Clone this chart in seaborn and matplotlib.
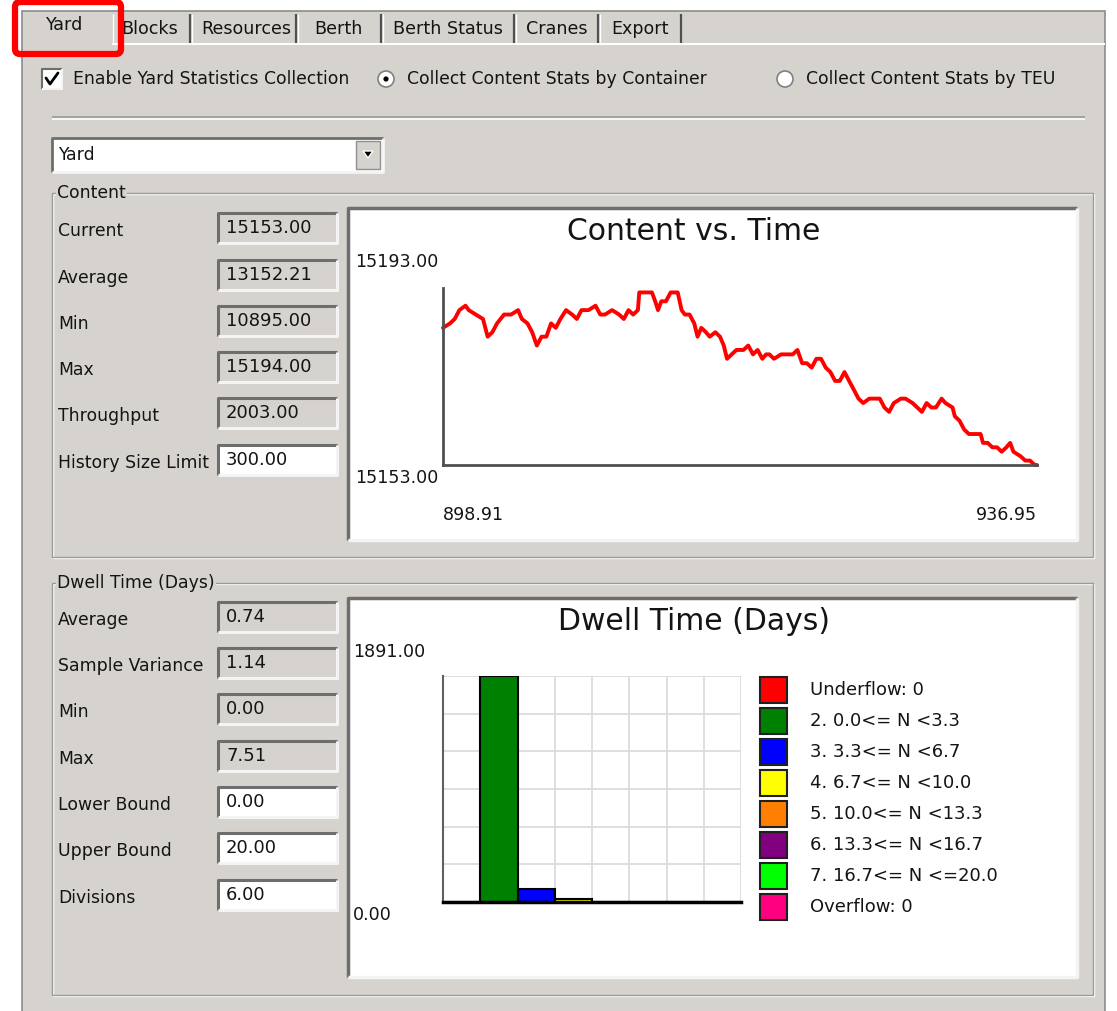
import matplotlib
matplotlib.use("Agg")
import numpy as np
import pandas as pd
import matplotlib.pyplot as plt
from matplotlib.patches import Rectangle, FancyBboxPatch, Circle, Polygon
import seaborn as sns

# ---- data ----
tab_names = ["Yard", "Blocks", "Resources", "Berth", "Berth Status", "Cranes", "Export"]

content_labels = ["Current", "Average", "Min", "Max", "Throughput", "History Size Limit"]
content_values = ["15153.00", "13152.21", "10895.00", "15194.00", "2003.00", "300.00"]

dwell_labels = ["Average", "Sample Variance", "Min", "Max", "Lower Bound", "Upper Bound", "Divisions"]
dwell_values = ["0.74", "1.14", "0.00", "7.51", "0.00", "20.00", "6.00"]

# content vs. time trace
time = [898.91, 899.36, 899.66, 899.96, 900.35, 900.56, 901.01, 901.47, 901.77, 902.07,
        902.37, 902.82, 903.27, 903.72, 903.96, 904.32, 904.62, 904.92, 905.22, 905.53,
        905.83, 906.13, 906.43, 906.79, 907.18, 907.48, 907.78, 908.23, 908.68, 908.98,
        909.28, 909.74, 910.19, 910.49, 910.79, 911.09, 911.39, 911.48, 911.84, 912.29,
        912.50, 912.68, 912.89, 913.19, 913.49, 913.94, 914.19, 914.40, 914.70, 915.00,
        915.21, 915.45, 915.75, 915.99, 916.35, 916.65, 916.89, 917.10, 917.40, 917.70,
        918.15, 918.46, 918.76, 919.06, 919.36, 919.60, 919.81, 920.11, 920.56, 921.01,
        921.31, 921.61, 921.91, 922.21, 922.52, 922.82, 923.12, 923.42, 923.72, 924.02,
        924.32, 924.62, 924.92, 925.22, 925.52, 925.82, 926.21, 926.51, 926.88, 927.18,
        927.48, 927.78, 928.23, 928.53, 928.98, 929.28, 929.58, 929.88, 930.18, 930.48,
        930.84, 931.09, 931.54, 931.69, 931.99, 932.29, 932.59, 933.04, 933.34, 933.49,
        933.79, 934.09, 934.39, 934.69, 934.99, 935.23, 935.44, 935.89, 936.20, 936.50,
        936.80, 936.95]
content = [15184, 15185, 15186, 15188, 15189, 15188, 15187, 15186, 15182, 15183,
           15185, 15187, 15187, 15188, 15186, 15185, 15183, 15180, 15182, 15182,
           15185, 15184, 15186, 15188, 15187, 15186, 15188, 15188, 15189, 15187,
           15187, 15188, 15187, 15186, 15188, 15187, 15188, 15192, 15192, 15192,
           15190, 15188, 15190, 15190, 15192, 15192, 15188, 15187, 15187, 15185,
           15182, 15184, 15183, 15182, 15183, 15182, 15180, 15177, 15178, 15179,
           15179, 15180, 15178, 15179, 15177, 15178, 15178, 15177, 15178, 15178,
           15178, 15179, 15176, 15176, 15175, 15177, 15177, 15175, 15174, 15172,
           15172, 15174, 15172, 15170, 15168, 15167, 15168, 15168, 15168, 15166,
           15165, 15167, 15168, 15168, 15167, 15166, 15165, 15167, 15166, 15166,
           15168, 15167, 15166, 15164, 15163, 15161, 15160, 15160, 15160, 15158,
           15158, 15157, 15157, 15156, 15157, 15158, 15156, 15155, 15154, 15154,
           15153, 15153]
time_labels = ["898.91", "936.95"]
content_labels_axis = ["15193.00", "15153.00"]

# dwell time histogram
bins = ["Underflow: 0", "2. 0.0<= N <3.3", "3. 3.3<= N <6.7", "4. 6.7<= N <10.0",
        "5. 10.0<= N <13.3", "6. 13.3<= N <16.7", "7. 16.7<= N <=20.0", "Overflow: 0"]
counts = [0, 1891, 108, 24, 0, 0, 0, 0]
bin_colors = ["#ff0000", "#008000", "#0000ff", "#ffff00",
              "#ff8000", "#800080", "#00ff00", "#ff0080"]
dwell_axis_labels = ["1891.00", "0.00"]

# ---- page setup ----
sns.set_style("white")
plt.rcParams["font.family"] = ["DejaVu Sans"]
plt.rcParams["text.color"] = "#141414"

W, H = 1117, 1011
GREY = "#d6d3ce"
FS = 12.4      # dialog labels
VS = 13        # text box values
AS = 12.6      # chart axis labels

fig = plt.figure(figsize=(W / 100, H / 100), dpi=100)
bg = fig.add_axes([0, 0, 1, 1])
bg.set_xlim(0, W)
bg.set_ylim(H, 0)
bg.axis("off")


def px_axes(x0, y0, x1, y1):
    return fig.add_axes([x0 / W, 1 - y1 / H, (x1 - x0) / W, (y1 - y0) / H])


def line(xs, ys, c, lw=1.0, z=2):
    bg.plot(xs, ys, color=c, lw=lw, solid_capstyle="butt", zorder=z)


def sunken(x0, y0, x1, y1, face, lw=2.0):
    bg.add_patch(Rectangle((x0, y0), x1 - x0, y1 - y0, fc=face, ec="none", zorder=2))
    line([x0, x0, x1], [y1, y0, y0], "#6e6e6e", lw, 3)
    line([x0, x1, x1], [y1, y1, y0], "#f4f4f4", lw, 3)


def group_box(x0, y0, x1, y1, title):
    bg.add_patch(Rectangle((x0 + 1, y0 + 1), x1 - x0, y1 - y0, fc="none", ec="white", lw=1, zorder=2))
    bg.add_patch(Rectangle((x0, y0), x1 - x0, y1 - y0, fc="none", ec="#9a9a9a", lw=1, zorder=2))
    bg.text(x0 + 5, y0, title, fontsize=FS, va="center", ha="left", zorder=4,
            bbox=dict(fc=GREY, ec="none", pad=1))


# main window
bg.add_patch(Rectangle((22, 11), 1083, 1010, fc=GREY, ec="#8c8c8c", lw=1.2, zorder=1))
line([112, 1105], [44, 44], "white", 1.5)

# tabs
tab_sep = [190, 296, 381, 514, 598, 681]
tab_x = [64, 150, 246, 338, 448, 557, 640]
for x in tab_sep:
    line([x, x], [14, 43], "#505050", 1.6)
for x in [113] + [s + 2 for s in tab_sep[:-1]]:
    line([x, x], [14, 43], "white", 1.0)
for i, name in enumerate(tab_names):
    bg.text(tab_x[i], 25 if i == 0 else 29, name, fontsize=12.6, ha="center", va="center", zorder=4)
bg.add_patch(FancyBboxPatch((15, 2), 106, 52, boxstyle="round,pad=0,rounding_size=5",
                            fc="none", ec="#ff0000", lw=4.5, zorder=6))

# checkbox + radio buttons
sunken(42, 69, 62, 89, "white", 1.5)
bg.plot([46, 50, 58], [78, 84, 73], color="black", lw=2.0, zorder=4)
bg.text(73, 79, "Enable Yard Statistics Collection", fontsize=FS, va="center", zorder=4)
for cx, on, label in [(386, True, "Collect Content Stats by Container"),
                      (785, False, "Collect Content Stats by TEU")]:
    bg.add_patch(Circle((cx, 79), 8, fc="white", ec="#808080", lw=1.2, zorder=3))
    if on:
        bg.add_patch(Circle((cx, 79), 2.6, fc="black", ec="none", zorder=4))
    bg.text(cx + 21, 79, label, fontsize=FS, va="center", zorder=4)

# separator
line([52, 1085], [117, 117], "#9a9a9a", 1.2)
line([52, 1085], [119, 119], "white", 1.2)

# combo box
sunken(52, 138, 383, 172, "white", 2)
bg.add_patch(Rectangle((356, 141), 24, 28, fc=GREY, ec="#909090", lw=1, zorder=4))
bg.add_patch(Polygon([[363, 151], [373, 151], [368, 158]], closed=True, fc="black", zorder=5))
bg.text(58, 155, "Yard", fontsize=FS, va="center", zorder=4)

# ---- Content group ----
group_box(52, 193, 1093, 557, "Content")
row_y = [231, 278, 324, 370, 416, 463]
for i, (lab, val) in enumerate(zip(content_labels, content_values)):
    y = row_y[i]
    bg.text(58, y, lab, fontsize=FS, va="center", zorder=4)
    face = "white" if i == len(content_labels) - 1 else GREY
    sunken(218, y - 18, 337, y + 12, face, 2.2)
    bg.text(226, y - 3, val, fontsize=VS, va="center", zorder=4)

sunken(348, 208, 1077, 540, "white", 2.5)
bg.text(694, 232, "Content vs. Time", fontsize=21.5, ha="center", va="center", zorder=4)
bg.text(355, 262, content_labels_axis[0], fontsize=AS, va="center", zorder=4)
bg.text(355, 478, content_labels_axis[1], fontsize=AS, va="center", zorder=4)
bg.text(443, 515, time_labels[0], fontsize=AS, va="center", ha="left", zorder=4)
bg.text(1037, 515, time_labels[1], fontsize=AS, va="center", ha="right", zorder=4)

ax1 = px_axes(443, 288, 1037, 465)
ax1.set_zorder(5)
ax1.patch.set_alpha(0)
sns.lineplot(x=time, y=content, ax=ax1, color="#ff0000", lw=2.8, estimator=None)
for ln in ax1.lines:
    ln.set_clip_on(False)
ax1.set_xlim(898.91, 936.95)
ax1.set_ylim(15153, 15193)
ax1.set_xticks([])
ax1.set_yticks([])
ax1.set_xlabel("")
ax1.set_ylabel("")
for s in ["top", "right"]:
    ax1.spines[s].set_visible(False)
for s in ["left", "bottom"]:
    ax1.spines[s].set_color("#505050")
    ax1.spines[s].set_linewidth(2)

# ---- Dwell time group ----
group_box(52, 583, 1093, 995, "Dwell Time (Days)")
row_y = [620, 666, 712, 759, 805, 851, 898]
for i, (lab, val) in enumerate(zip(dwell_labels, dwell_values)):
    y = row_y[i]
    bg.text(58, y, lab, fontsize=FS, va="center", zorder=4)
    face = "white" if i >= 4 else GREY
    sunken(218, y - 18, 337, y + 12, face, 2.2)
    bg.text(226, y - 3, val, fontsize=VS, va="center", zorder=4)

sunken(348, 598, 1077, 977, "white", 2.5)
bg.text(694, 622, "Dwell Time (Days)", fontsize=21.5, ha="center", va="center", zorder=4)
bg.text(353, 652, dwell_axis_labels[0], fontsize=AS, va="center", zorder=4)
bg.text(353, 915, dwell_axis_labels[1], fontsize=AS, va="center", zorder=4)

ax2 = px_axes(443, 676, 741, 902)
ax2.set_zorder(5)
ax2.patch.set_alpha(0)
df = pd.DataFrame({"bin": bins, "count": counts})
sns.barplot(data=df, x="bin", y="count", hue="bin", palette=bin_colors, saturation=1,
            width=1.0, edgecolor="black", linewidth=1.5, legend=False, ax=ax2)
ax2.set_xlim(-0.5, len(bins) - 0.5)
ax2.set_ylim(0, max(counts))
ax2.set_xticks(np.arange(-0.5, len(bins), 1.0))
ax2.set_yticks(np.linspace(0, max(counts), 7))
ax2.set_xticklabels([])
ax2.set_yticklabels([])
ax2.tick_params(length=0)
ax2.grid(True, color="#d9d9d9", lw=1.2)
ax2.set_axisbelow(True)
ax2.set_xlabel("")
ax2.set_ylabel("")
for s in ["top", "right"]:
    ax2.spines[s].set_visible(False)
ax2.spines["left"].set_color("#606060")
ax2.spines["left"].set_linewidth(1.5)
ax2.spines["bottom"].set_color("black")
ax2.spines["bottom"].set_linewidth(2.5)

# legend
for i, (lab, col) in enumerate(zip(bins, bin_colors)):
    yc = 690 + i * 31
    bg.add_patch(Rectangle((760, yc - 13), 27, 26, fc=col, ec="#202020", lw=1.5, zorder=4))
    bg.text(810, yc, lab, fontsize=13, va="center", zorder=4)

fig.savefig("out.png", dpi=100)
